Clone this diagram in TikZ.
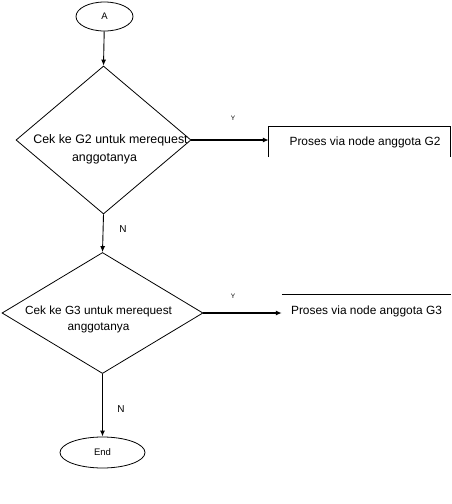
\documentclass[tikz,border=0pt]{standalone}
\usepackage{fontspec}
\setmainfont{Liberation Sans}
\usetikzlibrary{shapes.geometric,arrows.meta}
\begin{document}
\begin{tikzpicture}[x=1pt,y=-1pt,
  thinline/.style={line width=0.9pt},
  thickline/.style={line width=1.8pt},
  tip/.style={-{Latex[length=6pt,width=5pt]}},
  oval/.style={draw,ellipse,line width=0.8pt,inner sep=0pt,font=\fontsize{9.5}{11}\selectfont},
  decision/.style={draw,diamond,line width=0.8pt,inner sep=0pt},
  dtext/.style={align=center,inner sep=0pt},
  ptext/.style={inner sep=0pt,font=\fontsize{11.9}{14}\selectfont},
  small/.style={font=\fontsize{6.5}{8}\selectfont},
  nlabel/.style={font=\fontsize{10}{12}\selectfont}]
\useasboundingbox (0,0) rectangle (451,504);
% start
\node[oval,minimum width=57pt,minimum height=29pt] (a) at (104.5,16.5) {A};
% decision 1
\node[decision,minimum width=175pt,minimum height=148pt] (d1) at (103.5,140) {};
\node[dtext,font=\fontsize{12.4}{18}\selectfont] (d1t) at (110.5,149.5) {Cek ke G2 untuk merequest\\\hspace*{-12pt}anggotanya};
% process G2
\node[ptext,minimum width=181pt,minimum height=30pt] (p2) at (359.5,142) {\hspace*{11pt}Proses via node anggota G2};
\draw[line width=0.8pt] (p2.south west) -- (p2.north west) -- (p2.north east) -- (p2.south east);
% decision 2
\node[decision,minimum width=201pt,minimum height=121pt] (d2) at (102.5,313) {};
\node[dtext,font=\fontsize{11.8}{16}\selectfont] (d2t) at (98.5,319) {Cek ke G3 untuk merequest\\anggotanya};
% process G3
\node[ptext,minimum width=169pt,minimum height=32pt] (p3) at (366.5,311) {Proses via node anggota G3};
\draw[line width=0.8pt] (p3.north west) -- (p3.north east);
% end
\node[oval,minimum width=85pt,minimum height=31pt] (e) at (102.5,452.5) {End};
% connectors
\draw[thinline,tip] (a) -- (d1.north);
\draw[thickline,tip] (d1.east) -- (d1.east -| p2.west);
\draw[thinline,tip] (d1.south) -- (d2.north);
\draw[thickline,tip] (d2.east) -- (d2.east -| p3.west);
\draw[thickline,tip] (d2.south) -- (e.north);
% labels
\node[small] (y1) at (233,118) {Y};
\node[small] (y2) at (233,296) {Y};
\node[nlabel] (n1) at (123,229) {N};
\node[nlabel] (n2) at (121,409) {N};
\end{tikzpicture}
\end{document}
